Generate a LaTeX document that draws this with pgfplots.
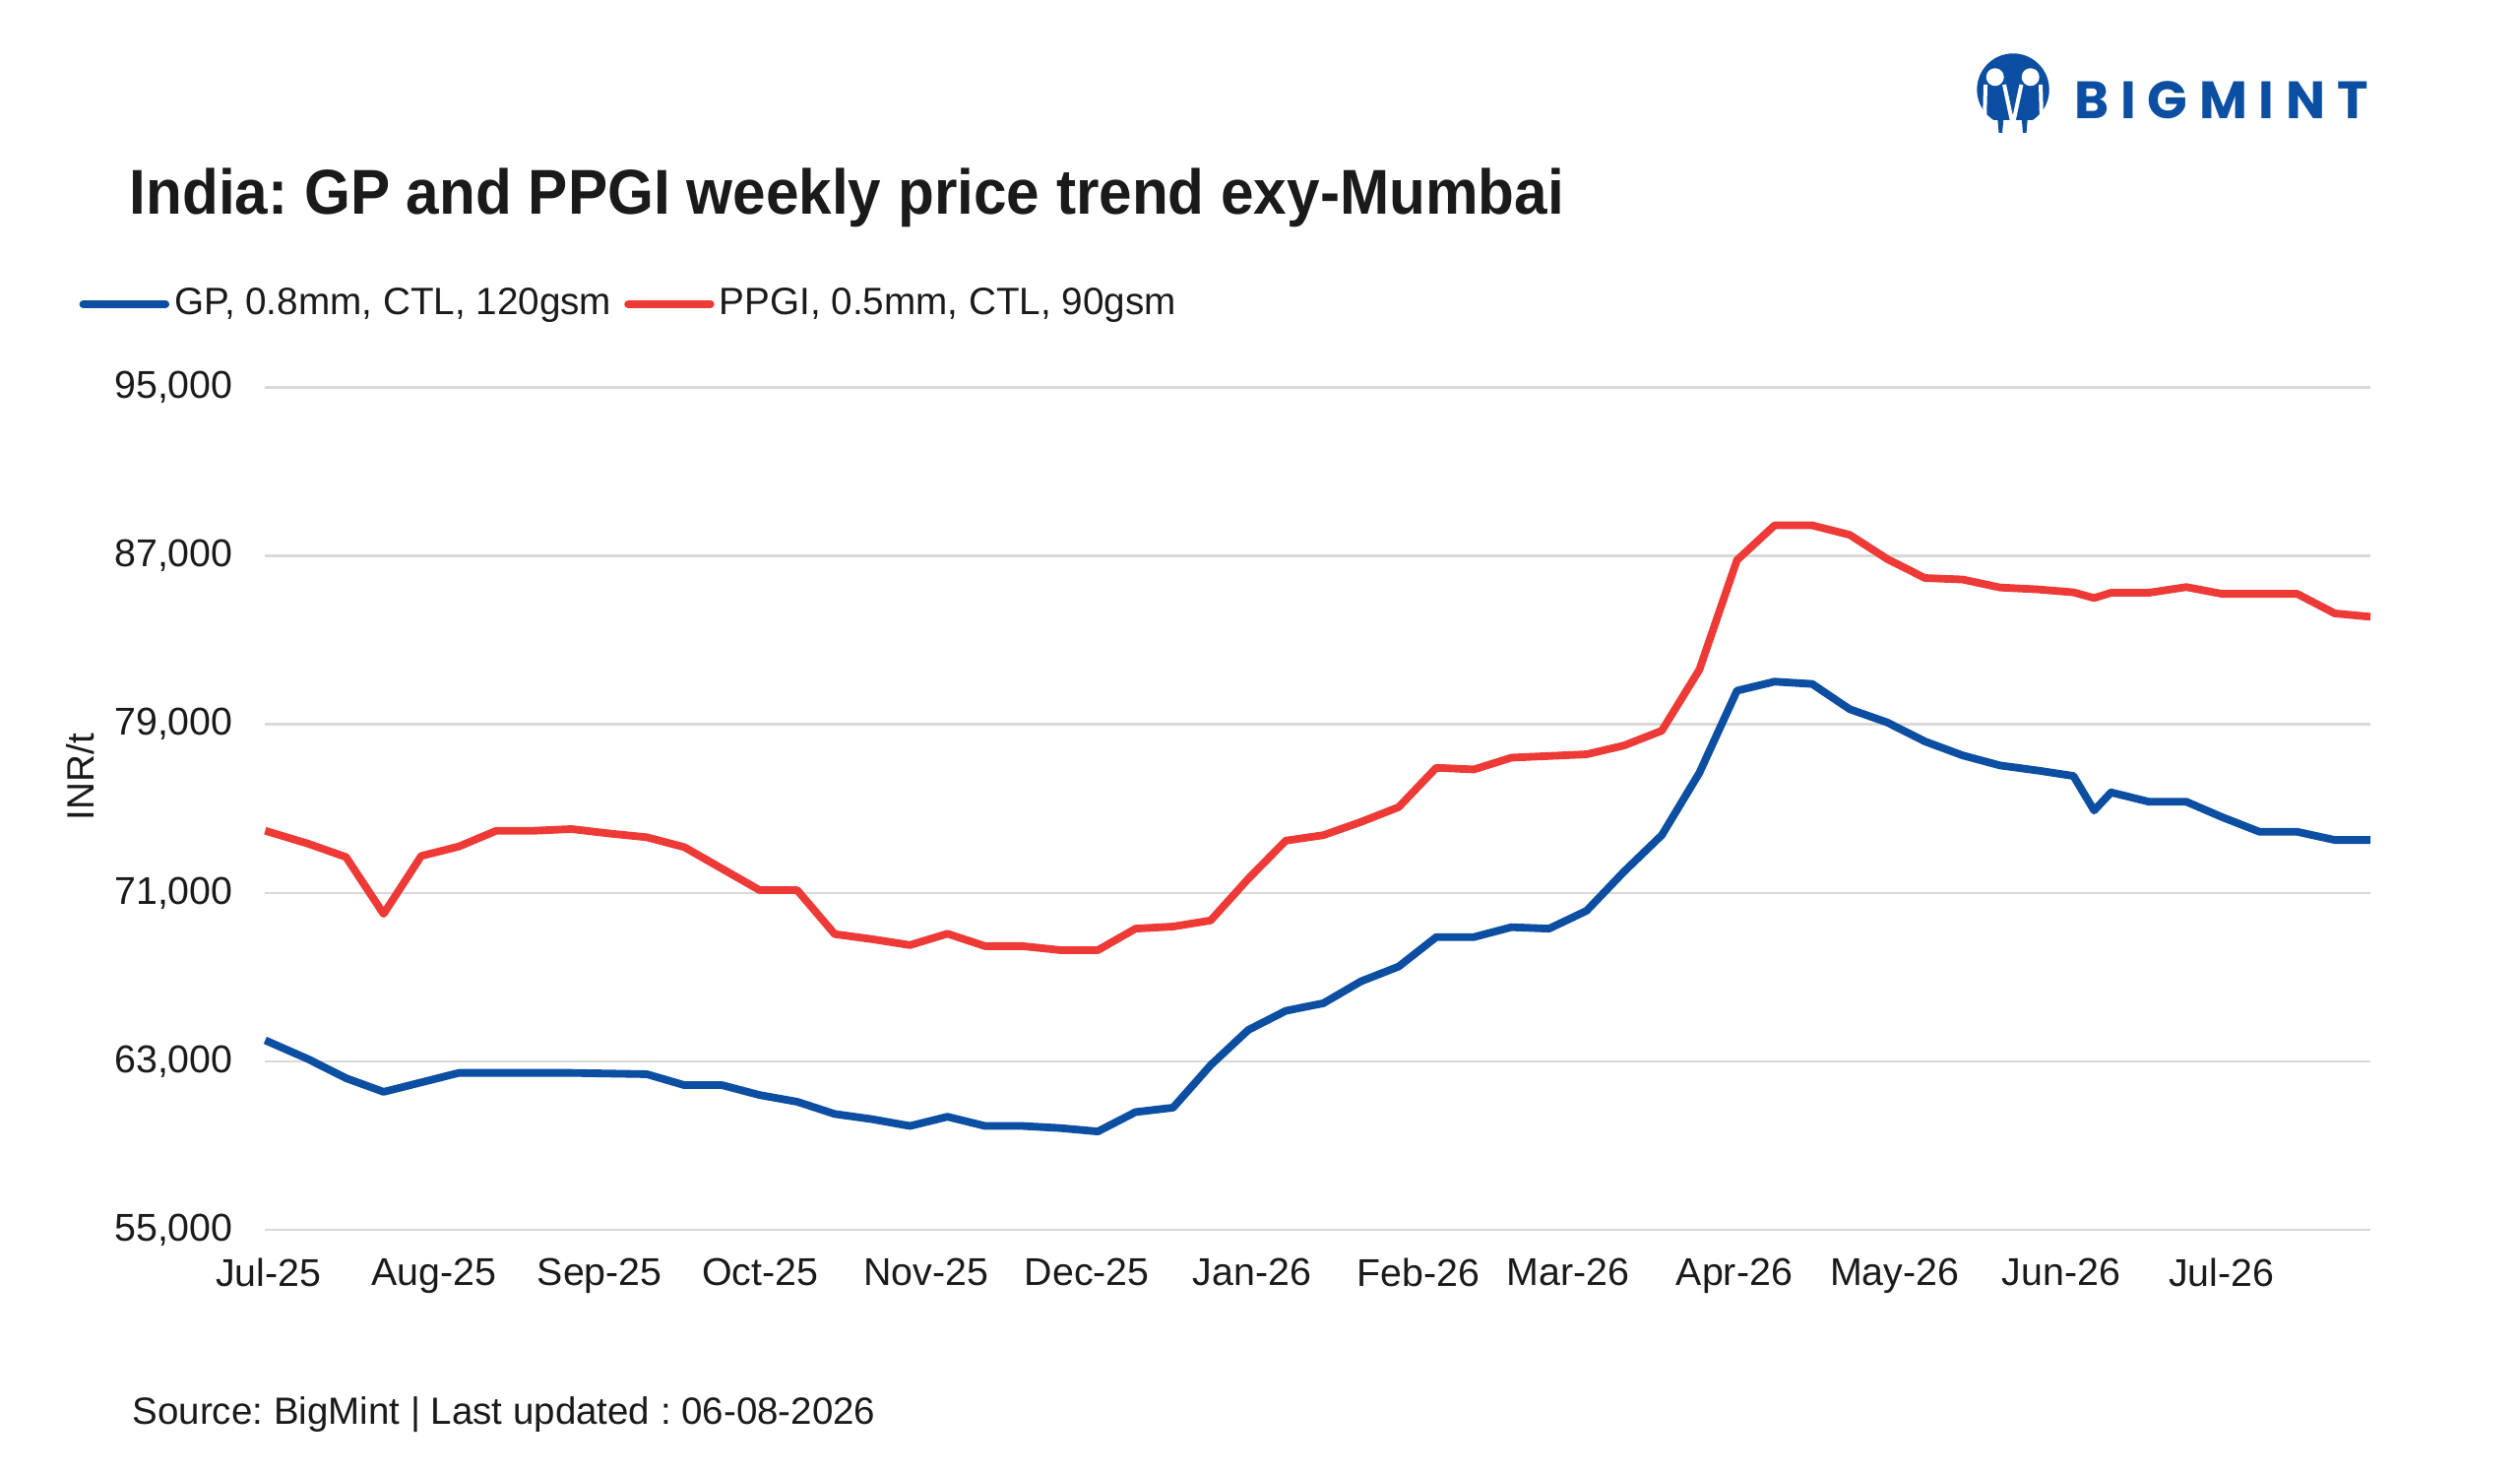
\documentclass[border=0pt]{standalone}
\usepackage{pgfplots}
\usepackage{pgfplotstable}
\pgfplotsset{compat=1.18}
\usepackage{fontspec}
\setmainfont{Liberation Sans}
\newfontfamily\logofont{Poppins}
\definecolor{gpblue}{HTML}{0B4EA2}
\definecolor{ppgired}{HTML}{EE3A36}
\definecolor{gridgray}{HTML}{D9D9D9}
\definecolor{textdark}{HTML}{1A1A1A}
\definecolor{logoblue}{HTML}{0B4EA2}

\pgfplotstableread{
w gp ppgi
0 64000 73950
1.15 63100 73330
2.15 62200 72700
3.15 61550 70000
4.15 62000 72750
5.15 62450 73200
6.15 62450 73950
7.15 62450 73950
8.15 62450 74030
9.15 62420 73820
10.15 62390 73640
11.15 61870 73170
12.15 61870 72150
13.15 61400 71130
14.15 61080 71130
15.15 60500 69040
16.15 60250 68800
17.15 59930 68520
18.15 60370 69060
19.15 59930 68470
20.15 59930 68470
21.15 59830 68280
22.15 59670 68280
23.15 60590 69300
24.15 60800 69400
25.15 62820 69690
26.15 64490 71670
27.15 65400 73480
28.15 65760 73740
29.15 66800 74370
30.15 67500 75070
31.15 68900 76940
32.15 68900 76860
33.15 69370 77420
34.15 69300 77500
35.15 70150 77580
36.15 72020 78000
37.15 73740 78700
38.15 76700 81600
39.15 80600 86800
40.15 81030 88450
41.15 80920 88450
42.15 79720 88000
43.15 79090 86850
44.15 78190 85950
45.15 77530 85880
46.15 77050 85500
47.15 76810 85410
48.1 76550 85270
48.65 74910 85000
49.1 75770 85250
50.1 75330 85250
51.1 75330 85520
52.05 74600 85200
53.05 73900 85200
54.05 73900 85200
55.05 73510 84270
56 73510 84110
}\pricedata

\begin{document}
\frenchspacing
\begin{tikzpicture}
\path[use as bounding box] (0,0) rectangle (768pt,449.1pt);

% title
\node[anchor=base west, inner sep=0pt, text=textdark] at (39.3pt,383.8pt)
  {\scalebox{0.937}[1]{\fontsize{19.3}{22}\selectfont\bfseries India: GP and PPGI weekly price trend exy-Mumbai}};

% source
\node[anchor=base west, inner sep=0pt, text=textdark] at (40.2pt,15.1pt)
  {\fontsize{11.55}{13}\selectfont Source: BigMint | Last updated : 06-08-2026};

% logo (coordinates in source pixels)
\begin{scope}[x=0.3pt, y=-0.3pt, shift={(0pt,449.1pt)}]
  \fill[logoblue] (2045,91) circle (36.7);
  \fill[white] (2000,122) rectangle (2092,142);
  \fill[logoblue] (2029,118) -- (2035.5,118) -- (2034,135) -- (2030.5,135) -- cycle;
  \fill[logoblue] (2053.5,118) -- (2060,118) -- (2058.5,135) -- (2055,135) -- cycle;
  \fill[white] (2026.7,78.3) circle (9);
  \fill[white] (2062.7,78.3) circle (9);
  \draw[white, line width=1.2pt] (2017,86) -- (2016,124);
  \draw[white, line width=1.2pt] (2073,86) -- (2074,124);
  \draw[white, line width=1.2pt, line join=miter] (2036,86) -- (2044.7,127) -- (2053.4,86);
\end{scope}
\node[anchor=base west, inner sep=0pt, text=logoblue] at (632pt,412.9pt)
  {\logofont\bfseries\fontsize{16}{17}\selectfont\makebox[89.5pt][s]{B\hfill I\hfill G\hfill M\hfill I\hfill N\hfill T}};

\begin{axis}[
  at={(80.82pt,74.4pt)}, anchor=south west,
  width=641.6pt, height=256.65pt, scale only axis,
  xmin=0, xmax=56, ymin=55000, ymax=95000,
  clip=false,
  axis line style={draw=none},
  major tick length=0pt,
  ytick={55000,63000,71000,79000,87000,95000},
  scaled y ticks=false,
  xtick={0.085,4.49,8.90,13.17,17.58,21.86,26.25,30.67,34.65,39.08,43.34,47.77,52.04},
  xticklabels={Jul-25,Aug-25,Sep-25,Oct-25,Nov-25,Dec-25,Jan-26,Feb-26,Mar-26,Apr-26,May-26,Jun-26,Jul-26},
  ymajorgrids,
  grid style={line width=0.75pt, color=gridgray},
  tick label style={font=\fontsize{11.8}{13}\selectfont, text=textdark},
  yticklabel style={xshift=-6.3pt},
  xticklabel style={yshift=-5.3pt},
  /pgf/number format/assume math mode=true,
  /pgf/number format/1000 sep={,},
  /pgf/number format/fixed,
  /pgf/number format/precision=0,
  ylabel={INR/t},
  ylabel style={at={(axis description cs:-0.0876,0.5377)}, anchor=center, font=\fontsize{11.6}{13}\selectfont, text=textdark},
  legend columns=2,
  legend image code/.code={\draw[#1, line cap=round] (0pt,0pt) -- (25.1pt,0pt);},
  legend style={at={(-0.0886,1.0988)}, anchor=west, draw=none, fill=none, inner sep=0pt,
    font=\fontsize{11.6}{13}\selectfont, text=textdark,
    nodes={inner xsep=1.5pt},
    /tikz/every even column/.append style={column sep=2.4pt}},
]
\addplot[gpblue, line width=2.35pt, line join=round] table[x=w, y=gp] {\pricedata};
\addlegendentry{GP, 0.8mm, CTL, 120gsm}
\addplot[ppgired, line width=2.35pt, line join=round] table[x=w, y=ppgi] {\pricedata};
\addlegendentry{PPGI, 0.5mm, CTL, 90gsm}
\end{axis}
\end{tikzpicture}
\end{document}
